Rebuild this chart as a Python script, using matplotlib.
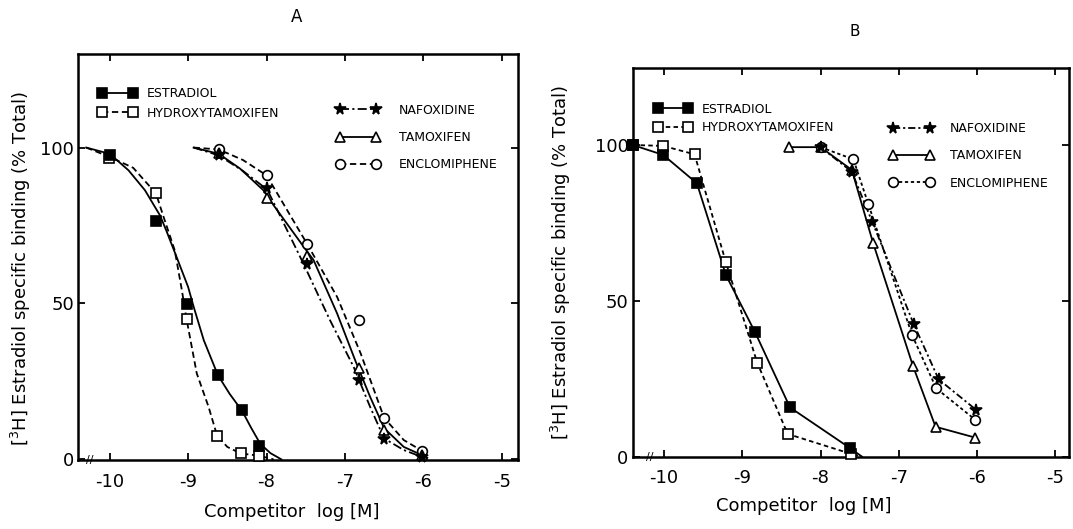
"""
Competitive binding curves for [3H]-estradiol, panels A and B.
"""

import matplotlib
matplotlib.use("Agg")
import matplotlib.pyplot as plt
from matplotlib.lines import Line2D

plt.rcParams["font.family"] = ["DejaVu Sans"]

# ── Panel A: measured points ────────────────────────────────────
A_E2_X = [-10.0, -9.41, -9.01, -8.62, -8.31, -8.09]
A_E2_Y = [97.5, 76.4, 49.7, 27.0, 16.0, 4.4]
A_OHT_X = [-10.01, -9.41, -9.02, -8.63, -8.33, -8.10]
A_OHT_Y = [96.5, 85.3, 44.9, 7.6, 1.9, 1.2]
A_ANTI_X = [-8.61, -8.00, -7.49, -6.82, -6.50, -6.02]
A_NAF_Y = [97.5, 86.9, 62.5, 25.6, 6.7, 0.8]
A_TAM_Y = [98.1, 83.8, 65.2, 29.2, 9.4, 1.4]
A_ENC_Y = [99.4, 91.1, 69.0, 44.6, 13.3, 2.8]

# ── Panel A: hand-drawn curves ─────────────────────────────────
A_E2_CX = [-10.30, -10.0, -9.76, -9.55, -9.36, -9.28, -9.13, -9.0, -8.93, -8.80,
           -8.62, -8.47, -8.31, -8.20, -8.08, -7.95, -7.81]
A_E2_CY = [100, 98, 92.7, 86.3, 78.3, 73.5, 63.8, 55.3, 49.0, 38.2,
           27.0, 21.0, 15.5, 10.3, 5.0, 2.0, 0]
A_OHT_CX = [-10.30, -10.0, -9.7, -9.41, -9.32, -9.17, -9.08, -9.02, -8.89, -8.74,
            -8.63, -8.50, -8.33, -8.10, -7.91]
A_OHT_CY = [100, 97, 93.5, 85.3, 78.3, 67.0, 54.3, 45.0, 27.6, 16.9,
            7.6, 4.0, 1.9, 1.2, 0]
A_TAM_CX = [-8.93, -8.61, -8.34, -8.04, -7.91, -7.55, -7.40, -7.10, -6.87, -6.68,
            -6.50, -6.25, -6.02, -5.95]
A_TAM_CY = [100, 98, 93.3, 86.3, 81.5, 69.0, 63.9, 46.8, 31.8, 20.1,
            10.0, 4.0, 1.4, 0.5]
A_NAF_CX = [-8.93, -8.61, -8.30, -7.99, -7.53, -7.19, -6.89, -6.68, -6.50, -6.25,
            -6.02, -5.95]
A_NAF_CY = [100, 97.5, 92.5, 86.5, 62.8, 44.6, 29.7, 16.9, 6.7, 3.0, 0.8, 0]
A_ENC_CX = [-8.93, -8.61, -8.30, -8.00, -7.48, -7.10, -6.80, -6.50, -6.25, -6.02,
            -5.95]
A_ENC_CY = [100, 99.4, 96.0, 91.1, 69.0, 52.1, 34.0, 13.3, 6.2, 2.8, 2.0]

# ── Panel B: measured points (joined point to point) ────────────
B_E2_X = [-10.40, -10.01, -9.58, -9.21, -8.84, -8.39, -7.62]
B_E2_Y = [100, 96.8, 87.7, 58.3, 40.1, 15.8, 2.7]
B_OHT_X = [-10.40, -10.01, -9.61, -9.21, -8.81, -8.42, -7.61]
B_OHT_Y = [100, 99.7, 97.0, 62.4, 30.2, 7.3, 0.9]
B_TAIL_X = -7.47          # where both estradiol lines run into the axis
B_TAM_X = [-8.40, -8.00, -7.60, -7.33, -6.82, -6.53, -6.02]
B_TAM_Y = [99.3, 99.3, 92.0, 68.7, 29.2, 9.6, 6.1]
B_NAF_X = [-8.00, -7.60, -7.34, -6.81, -6.49, -6.01]
B_NAF_Y = [99.3, 91.4, 75.4, 42.6, 24.8, 15.0]
B_ENC_X = [-8.00, -7.58, -7.39, -6.83, -6.52, -6.02]
B_ENC_Y = [99.3, 95.4, 81.1, 39.0, 21.9, 11.8]

X_TICKS = [-10, -9, -8, -7, -6, -5]
Y_TICKS = [0, 50, 100]
LEFT_KEY = ["ESTRADIOL", "HYDROXYTAMOXIFEN"]
RIGHT_KEY = ["NAFOXIDINE", "TAMOXIFEN", "ENCLOMIPHENE"]
Y_LABEL = r"[$^{3}$H] Estradiol specific binding (% Total)"
X_LABEL = "Competitor  log [M]"

MARK = {
    "ESTRADIOL": dict(marker="s", ms=6.5, mfc="black", mec="black"),
    "HYDROXYTAMOXIFEN": dict(marker="s", ms=6.5, mfc="white", mec="black"),
    "NAFOXIDINE": dict(marker="*", ms=8.5, mfc="black", mec="black"),
    "TAMOXIFEN": dict(marker="^", ms=7, mfc="white", mec="black"),
    "ENCLOMIPHENE": dict(marker="o", ms=7, mfc="white", mec="black"),
}
LINE_A = {
    "ESTRADIOL": "-",
    "HYDROXYTAMOXIFEN": (0, (3.5, 2)),
    "NAFOXIDINE": (0, (5, 1.8, 1.2, 1.8)),
    "TAMOXIFEN": "-",
    "ENCLOMIPHENE": (0, (3.5, 2)),
}
LINE_B = {
    "ESTRADIOL": "-",
    "HYDROXYTAMOXIFEN": (0, (2.5, 1.8)),
    "NAFOXIDINE": (0, (4, 1.6, 1.2, 1.6)),
    "TAMOXIFEN": "-",
    "ENCLOMIPHENE": (0, (1.8, 1.5)),
}
LW = 1.3


def dots(ax, x, y, name):
    ax.plot(x, y, ls="none", clip_on=False, zorder=4, mew=1.2, **MARK[name])


def curve(ax, x, y, ls):
    ax.plot(x, y, color="black", lw=LW, ls=ls, zorder=2, clip_on=False)


def key(ax, names, lines, anchor, hlen, spacing, tpad):
    handles = [Line2D([], [], color="black", lw=LW, ls=lines[n], mew=1.2, **MARK[n])
               for n in names]
    leg = ax.legend(handles, names, loc="upper left", bbox_to_anchor=anchor,
                    frameon=False, numpoints=2, handlelength=hlen,
                    labelspacing=spacing, handletextpad=tpad, borderpad=0,
                    borderaxespad=0, fontsize=9)
    ax.legend_ = None       # keep it only as a plain artist, drawn once
    ax.add_artist(leg)


def frame(ax, xlim, ylim, xlab_x, ylab_x, ylab_y, brk_x):
    ax.set_xlim(*xlim)
    ax.set_ylim(*ylim)
    ax.set_xticks(X_TICKS)
    ax.set_xticklabels([f"-{abs(t)}" for t in X_TICKS])
    ax.set_yticks(Y_TICKS)
    ax.tick_params(direction="in", length=5, width=1.3, top=True, right=True,
                   labelsize=13)
    ax.tick_params(axis="x", pad=9)
    ax.tick_params(axis="y", pad=3)
    for sp in ax.spines.values():
        sp.set_linewidth(1.8)
    ax.set_xlabel(X_LABEL, fontsize=13)
    ax.xaxis.set_label_coords(xlab_x, -0.105)
    ax.set_ylabel(Y_LABEL, fontsize=13)
    ax.yaxis.set_label_coords(ylab_x, ylab_y)
    ax.text(brk_x, 0, "//", transform=ax.transAxes, ha="center", va="center",
            fontsize=8, zorder=6)


fig = plt.figure(figsize=(10.73, 5.29), dpi=100)
axA = fig.add_axes([0.0730, 0.1304, 0.4100, 0.7675])
axB = fig.add_axes([0.5897, 0.1367, 0.4069, 0.7342])

# ── Panel A ─────────────────────────────────────────────────────
curve(axA, A_E2_CX, A_E2_CY, LINE_A["ESTRADIOL"])
curve(axA, A_OHT_CX, A_OHT_CY, LINE_A["HYDROXYTAMOXIFEN"])
curve(axA, A_NAF_CX, A_NAF_CY, LINE_A["NAFOXIDINE"])
curve(axA, A_TAM_CX, A_TAM_CY, LINE_A["TAMOXIFEN"])
curve(axA, A_ENC_CX, A_ENC_CY, LINE_A["ENCLOMIPHENE"])
dots(axA, A_OHT_X, A_OHT_Y, "HYDROXYTAMOXIFEN")
dots(axA, A_E2_X, A_E2_Y, "ESTRADIOL")
dots(axA, A_ANTI_X, A_ENC_Y, "ENCLOMIPHENE")
dots(axA, A_ANTI_X, A_TAM_Y, "TAMOXIFEN")
dots(axA, A_ANTI_X, A_NAF_Y, "NAFOXIDINE")
frame(axA, (-10.40, -4.79), (-0.2, 130), 0.486, -0.103, 0.473, 0.025)
key(axA, LEFT_KEY, LINE_A, (0.045, 0.919), 3.1, 0.55, 0.8)
key(axA, RIGHT_KEY, LINE_A, (0.586, 0.878), 3.5, 1.15, 1.5)

# ── Panel B ─────────────────────────────────────────────────────
ax = axB
ax.plot(B_E2_X + [B_TAIL_X], B_E2_Y + [0], color="black", lw=LW,
        ls=LINE_B["ESTRADIOL"], zorder=2, clip_on=False)
ax.plot(B_OHT_X + [B_TAIL_X], B_OHT_Y + [0], color="black", lw=LW,
        ls=LINE_B["HYDROXYTAMOXIFEN"], zorder=2, clip_on=False)
curve(ax, B_TAM_X, B_TAM_Y, LINE_B["TAMOXIFEN"])
curve(ax, B_NAF_X, B_NAF_Y, LINE_B["NAFOXIDINE"])
curve(ax, B_ENC_X, B_ENC_Y, LINE_B["ENCLOMIPHENE"])
dots(ax, B_OHT_X, B_OHT_Y, "HYDROXYTAMOXIFEN")
dots(ax, B_E2_X, B_E2_Y, "ESTRADIOL")
dots(ax, B_TAM_X, B_TAM_Y, "TAMOXIFEN")
dots(ax, B_ENC_X, B_ENC_Y, "ENCLOMIPHENE")
dots(ax, B_NAF_X, B_NAF_Y, "NAFOXIDINE")
frame(ax, (-10.40, -4.82), (0, 124.6), 0.392, -0.137, 0.501, 0.04)
key(ax, LEFT_KEY, LINE_B, (0.050, 0.911), 3.0, 0.45, 0.8)
key(ax, RIGHT_KEY, LINE_B, (0.588, 0.862), 3.56, 1.15, 1.3)

fig.text(297 / 1073, 1 - 17 / 529, "A", ha="center", va="center", fontsize=12)
fig.text(855 / 1073, 1 - 31 / 529, "B", ha="center", va="center", fontsize=11)

fig.savefig("out.png", dpi=100)
